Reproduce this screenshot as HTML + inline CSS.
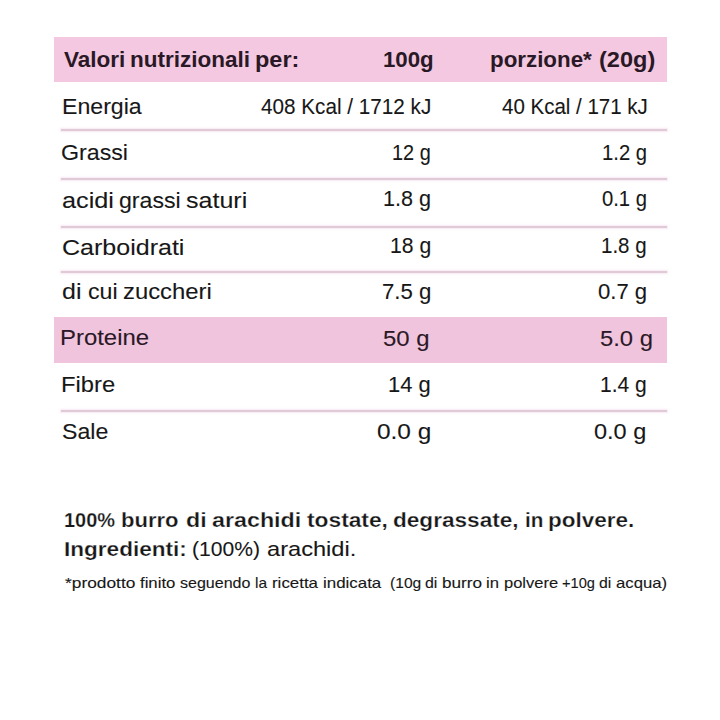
<!DOCTYPE html>
<html><head><meta charset="utf-8"><title>Valori nutrizionali</title>
<style>
html,body{margin:0;padding:0;background:#fff;width:720px;height:720px;overflow:hidden}
body{position:relative;font-family:"Liberation Sans",sans-serif;color:#171717}
.band{position:absolute;left:54px;width:613px}
.ln{position:absolute;left:61px;width:606px;height:2px;background:#dfcad6;box-shadow:0 0 2px 1px rgba(246,222,238,.7)}
.t{position:absolute;white-space:nowrap;transform-origin:0 0;-webkit-text-stroke:0.1px #171717}
.b7{-webkit-text-stroke:0.25px #fff}
.b7.pl{-webkit-text-stroke:0}
.sm{-webkit-text-stroke:0.12px #171717}
.pl{color:#2a1826}
.t.pl:not(.b7){-webkit-text-stroke-color:#2a1826}
</style></head><body>
<div class="band" style="top:37px;height:45px;background:#f3c8e0"></div>
<div class="band" style="top:317px;height:46px;background:#f0c4dd"></div>
<div class="ln" style="top:129px"></div>
<div class="ln" style="top:178px"></div>
<div class="ln" style="top:225.5px"></div>
<div class="ln" style="top:271px"></div>
<div class="ln" style="top:410px"></div>
<div class="t b7 pl" style="left:64.11px;top:50px;font-size:21.5px;line-height:21.5px;font-weight:700;transform:scaleX(1.0481)">Valori</div>
<div class="t b7 pl" style="left:130.43px;top:50px;font-size:21.5px;line-height:21.5px;font-weight:700;transform:scaleX(1.0472)">nutrizionali</div>
<div class="t b7 pl" style="left:255.29px;top:50px;font-size:21.5px;line-height:21.5px;font-weight:700;transform:scaleX(1.0919)">per:</div>
<div class="t b7 pl" style="left:382.54px;top:50px;font-size:21.5px;line-height:21.5px;font-weight:700;transform:scaleX(1.0348)">100g</div>
<div class="t b7 pl" style="left:489.71px;top:50px;font-size:21.5px;line-height:21.5px;font-weight:700;transform:scaleX(1.0390)">porzione*</div>
<div class="t b7 pl" style="left:598.69px;top:50px;font-size:21.5px;line-height:21.5px;font-weight:700;transform:scaleX(1.0948)">(20g)</div>
<div class="t" style="left:62.25px;top:96px;font-size:22px;line-height:22px;font-weight:400;transform:scaleX(1.0506)">Energia</div>
<div class="t" style="left:260.79px;top:97px;font-size:21.5px;line-height:21.5px;font-weight:400;transform:scaleX(0.9623)">408 Kcal / 1712 kJ</div>
<div class="t" style="left:501.54px;top:97px;font-size:21.5px;line-height:21.5px;font-weight:400;transform:scaleX(0.9534)">40 Kcal / 171 kJ</div>
<div class="t" style="left:60.73px;top:142px;font-size:22px;line-height:22px;font-weight:400;transform:scaleX(1.0545)">Grassi</div>
<div class="t" style="left:391.81px;top:143px;font-size:21.5px;line-height:21.5px;font-weight:400;transform:scaleX(0.9247)">12 g</div>
<div class="t" style="left:601.78px;top:143px;font-size:21.5px;line-height:21.5px;font-weight:400;transform:scaleX(0.9417)">1.2 g</div>
<div class="t" style="left:62.23px;top:190px;font-size:22px;line-height:22px;font-weight:400;transform:scaleX(1.1483)">acidi</div>
<div class="t" style="left:118.86px;top:190px;font-size:22px;line-height:22px;font-weight:400;transform:scaleX(1.0509)">grassi</div>
<div class="t" style="left:186.30px;top:190px;font-size:22px;line-height:22px;font-weight:400;transform:scaleX(1.1374)">saturi</div>
<div class="t" style="left:382.78px;top:189px;font-size:21.5px;line-height:21.5px;font-weight:400;transform:scaleX(1.0042)">1.8 g</div>
<div class="t" style="left:601.81px;top:189px;font-size:21.5px;line-height:21.5px;font-weight:400;transform:scaleX(0.9410)">0.1 g</div>
<div class="t" style="left:61.63px;top:237px;font-size:22px;line-height:22px;font-weight:400;transform:scaleX(1.1376)">Carboidrati</div>
<div class="t" style="left:389.51px;top:236px;font-size:21.5px;line-height:21.5px;font-weight:400;transform:scaleX(0.9836)">18 g</div>
<div class="t" style="left:601.26px;top:236px;font-size:21.5px;line-height:21.5px;font-weight:400;transform:scaleX(0.9529)">1.8 g</div>
<div class="t" style="left:62.07px;top:281px;font-size:22px;line-height:22px;font-weight:400;transform:scaleX(1.1362)">di</div>
<div class="t" style="left:87.58px;top:281px;font-size:22px;line-height:22px;font-weight:400;transform:scaleX(1.0537)">cui</div>
<div class="t" style="left:123.43px;top:281px;font-size:22px;line-height:22px;font-weight:400;transform:scaleX(1.0843)">zuccheri</div>
<div class="t" style="left:381.57px;top:282px;font-size:21.5px;line-height:21.5px;font-weight:400;transform:scaleX(1.0324)">7.5 g</div>
<div class="t" style="left:597.82px;top:282px;font-size:21.5px;line-height:21.5px;font-weight:400;transform:scaleX(1.0270)">0.7 g</div>
<div class="t pl" style="left:60.48px;top:327px;font-size:22px;line-height:22px;font-weight:400;transform:scaleX(1.0866)">Proteine</div>
<div class="t pl" style="left:383.23px;top:329px;font-size:21.5px;line-height:21.5px;font-weight:400;transform:scaleX(1.1110)">50 g</div>
<div class="t pl" style="left:599.74px;top:329px;font-size:21.5px;line-height:21.5px;font-weight:400;transform:scaleX(1.1063)">5.0 g</div>
<div class="t" style="left:60.99px;top:374px;font-size:22px;line-height:22px;font-weight:400;transform:scaleX(1.0796)">Fibre</div>
<div class="t" style="left:387.85px;top:375px;font-size:21.5px;line-height:21.5px;font-weight:400;transform:scaleX(1.0195)">14 g</div>
<div class="t" style="left:599.82px;top:375px;font-size:21.5px;line-height:21.5px;font-weight:400;transform:scaleX(0.9774)">1.4 g</div>
<div class="t" style="left:61.50px;top:421px;font-size:22px;line-height:22px;font-weight:400;transform:scaleX(1.0509)">Sale</div>
<div class="t" style="left:376.61px;top:422px;font-size:21.5px;line-height:21.5px;font-weight:400;transform:scaleX(1.1349)">0.0 g</div>
<div class="t" style="left:594.45px;top:422px;font-size:21.5px;line-height:21.5px;font-weight:400;transform:scaleX(1.0931)">0.0 g</div>
<div class="t b7" style="left:64.18px;top:509px;font-size:21px;line-height:21px;font-weight:700;transform:scaleX(0.9500)">100%</div>
<div class="t b7" style="left:120.96px;top:509px;font-size:21px;line-height:21px;font-weight:700;transform:scaleX(1.0488)">burro</div>
<div class="t b7" style="left:186.31px;top:509px;font-size:21px;line-height:21px;font-weight:700;transform:scaleX(1.1024)">di</div>
<div class="t b7" style="left:211.87px;top:509px;font-size:21px;line-height:21px;font-weight:700;transform:scaleX(1.1085)">arachidi</div>
<div class="t b7" style="left:307.16px;top:509px;font-size:21px;line-height:21px;font-weight:700;transform:scaleX(1.0837)">tostate,</div>
<div class="t b7" style="left:393.24px;top:509px;font-size:21px;line-height:21px;font-weight:700;transform:scaleX(1.0758)">degrassate,</div>
<div class="t b7" style="left:524.77px;top:509px;font-size:21px;line-height:21px;font-weight:700;transform:scaleX(0.9851)">in</div>
<div class="t b7" style="left:548.43px;top:509px;font-size:21px;line-height:21px;font-weight:700;transform:scaleX(1.0708)">polvere.</div>
<div class="t b7" style="left:64.25px;top:538px;font-size:21px;line-height:21px;font-weight:700;transform:scaleX(1.0738)">Ingredienti:</div>
<div class="t" style="left:191.67px;top:538px;font-size:21px;line-height:21px;font-weight:400;transform:scaleX(1.0043)">(100%)</div>
<div class="t" style="left:266.78px;top:538px;font-size:21px;line-height:21px;font-weight:400;transform:scaleX(1.1248)">arachidi.</div>
<div class="t sm" style="left:64.52px;top:575px;font-size:15px;line-height:15px;font-weight:400;transform:scaleX(1.1553)">*prodotto</div>
<div class="t sm" style="left:139.96px;top:575px;font-size:15px;line-height:15px;font-weight:400;transform:scaleX(1.1150)">finito</div>
<div class="t sm" style="left:180.00px;top:575px;font-size:15px;line-height:15px;font-weight:400;transform:scaleX(1.0690)">seguendo</div>
<div class="t sm" style="left:255.06px;top:575px;font-size:15px;line-height:15px;font-weight:400;transform:scaleX(1.0271)">la</div>
<div class="t sm" style="left:272.45px;top:575px;font-size:15px;line-height:15px;font-weight:400;transform:scaleX(1.1260)">ricetta</div>
<div class="t sm" style="left:323.11px;top:575px;font-size:15px;line-height:15px;font-weight:400;transform:scaleX(1.1260)">indicata</div>
<div class="t sm" style="left:389.81px;top:575px;font-size:15px;line-height:15px;font-weight:400;transform:scaleX(1.0430)">(10g</div>
<div class="t sm" style="left:424.94px;top:575px;font-size:15px;line-height:15px;font-weight:400;transform:scaleX(1.0600)">di</div>
<div class="t sm" style="left:441.70px;top:575px;font-size:15px;line-height:15px;font-weight:400;transform:scaleX(1.1443)">burro</div>
<div class="t sm" style="left:486.24px;top:575px;font-size:15px;line-height:15px;font-weight:400;transform:scaleX(1.1069)">in</div>
<div class="t sm" style="left:503.50px;top:575px;font-size:15px;line-height:15px;font-weight:400;transform:scaleX(1.1000)">polvere</div>
<div class="t sm" style="left:561.50px;top:575px;font-size:15px;line-height:15px;font-weight:400;transform:scaleX(0.9742)">+10g</div>
<div class="t sm" style="left:599.34px;top:575px;font-size:15px;line-height:15px;font-weight:400;transform:scaleX(1.0550)">di</div>
<div class="t sm" style="left:616.28px;top:575px;font-size:15px;line-height:15px;font-weight:400;transform:scaleX(1.1151)">acqua)</div>
</body></html>
